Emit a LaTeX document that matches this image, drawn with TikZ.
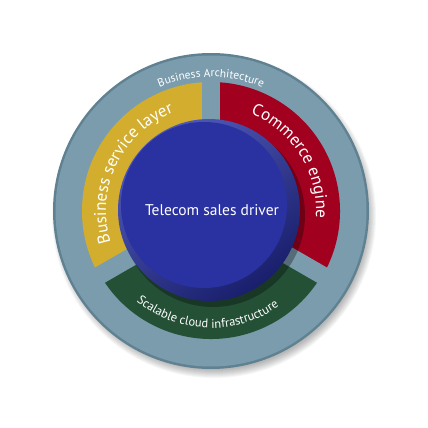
\documentclass[tikz,border=0pt]{standalone}
\usepackage{fontspec}
\setmainfont{PT Sans}
\usepackage{tikz}
\usetikzlibrary{decorations.text}

\definecolor{ringblue}{HTML}{7B9CAD}
\definecolor{ringedge}{HTML}{5F8192}
\definecolor{bandyellow}{HTML}{D3AE2E}
\definecolor{bandred}{HTML}{A1001F}
\definecolor{bandgreen}{HTML}{245036}
\definecolor{discface}{HTML}{2A31A0}
\definecolor{disclight}{HTML}{5059B8}
\definecolor{discdark}{HTML}{191F6C}

\begin{document}
\begin{tikzpicture}[x=1pt,y=1pt]
  \useasboundingbox (-211,-217) rectangle (217,211);
  % draw soft shadow
  \foreach \i in {0,...,8}
    \fill[black,opacity=0.035] (3,-5) circle (154+\i);
  % draw outer ring
  \fill[ringedge] (0,0) circle (158);
  \fill[ringblue] (0,0) circle (155.5);
  % draw bands
  \fill[bandyellow] (0,0) -- (90:129) arc (90:210:129) -- cycle;
  \fill[bandgreen]  (0,0) -- (210:128) arc (210:330:128) -- cycle;
  \fill[bandred]    (0,0) -- (-30:129) arc (-30:90:129) -- cycle;
  % draw gaps
  \foreach \a in {90,210,330}
    \draw[ringblue,line width=18] (0,0) -- (\a:136);
  % draw disc
  \fill[black,opacity=0.3] (2,-4) circle (92);
  \shade[top color=disclight,bottom color=discdark,shading angle=35]
    (-2,1) circle (91);
  \fill[discface] (-7,6) circle (83);
  \node[text=white,font=\fontsize{15.5}{18}\selectfont] (driver) at (1,1)
    {Telecom sales driver};
  % draw labels
  \path[decorate,decoration={text along path,text align=center,
      text color=white,
      text={|\fontsize{11.5}{13}\selectfont|Business Architecture}}]
    (160:134) arc (160:20:134);
  \path[decorate,decoration={text along path,text align=center,
      text color=white,
      text={|\fontsize{17}{19}\selectfont|Business service layer}}]
    (235:105) arc (235:73:105);
  \path[decorate,decoration={text along path,text align=center,
      text color=white,
      text={|\fontsize{17}{19}\selectfont|Commerce engine}}]
    (110:105) arc (110:-46:105);
  \path[decorate,decoration={text along path,text align=center,
      text color=white,
      text={|\fontsize{12.5}{14}\selectfont|Scalable cloud infrastructure}}]
    (200:117) arc (200:336:117);
\end{tikzpicture}
\end{document}
